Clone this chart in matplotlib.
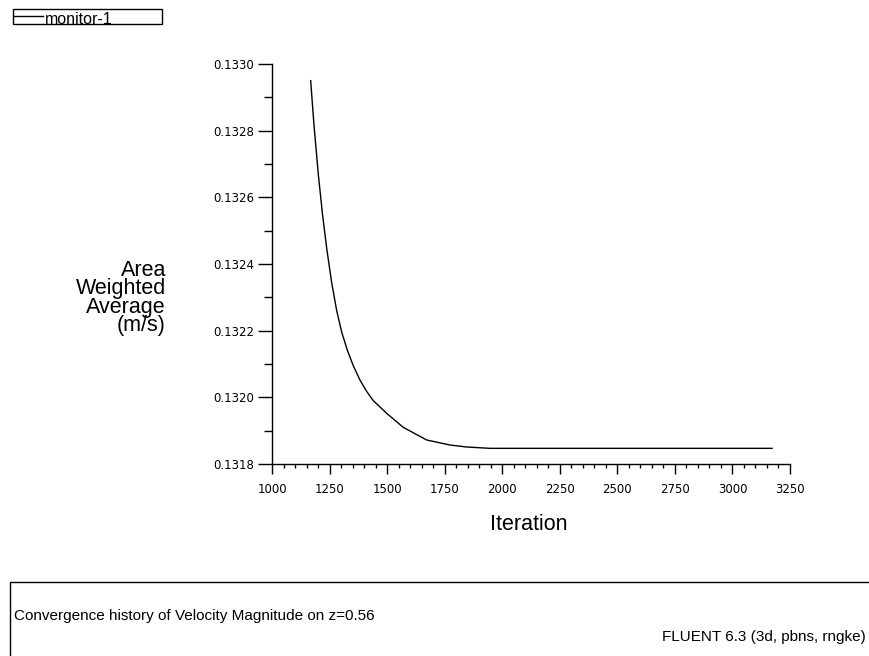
import matplotlib
matplotlib.use("Agg")
import matplotlib.pyplot as plt
from matplotlib.patches import Rectangle
from matplotlib.lines import Line2D
from matplotlib.ticker import MultipleLocator, FormatStrFormatter

# Monitor history: area-weighted average velocity magnitude per iteration
iterations = [1168, 1182, 1201, 1220, 1238, 1259, 1281, 1303, 1328, 1353, 1382,
              1411, 1440, 1483, 1498, 1553, 1570, 1672, 1773, 1846, 1947, 3172]
velocity = [0.132950, 0.132820, 0.132670, 0.132545, 0.132445, 0.132345, 0.132260,
            0.132195, 0.132140, 0.132095, 0.132052, 0.132018, 0.131990, 0.131962,
            0.131952, 0.131920, 0.131910, 0.131872, 0.131857, 0.131851, 0.131847,
            0.131847]

series_name = "monitor-1"
x_label = "Iteration"
y_label = "Area\nWeighted\nAverage\n(m/s)"
caption = "Convergence history of Velocity Magnitude on z=0.56"
solver_tag = "FLUENT 6.3 (3d, pbns, rngke)"

plt.rcParams["font.family"] = ["Liberation Sans", "DejaVu Sans"]

W, H = 869, 656
fig = plt.figure(figsize=(W / 100, H / 100), dpi=100)

def fx(px):
    return px / W

def fy(py):
    return 1 - py / H

ax = fig.add_axes([fx(272), fy(464), fx(790) - fx(272), fy(64) - fy(464)])
ax.plot(iterations, velocity, color="black", lw=1.0)
ax.set_xlim(1000, 3250)
ax.set_ylim(0.1318, 0.1330)

for side in ("top", "right"):
    ax.spines[side].set_visible(False)
for side in ("left", "bottom"):
    ax.spines[side].set_linewidth(1.0)

ax.xaxis.set_major_locator(MultipleLocator(250))
ax.xaxis.set_minor_locator(MultipleLocator(50))
ax.yaxis.set_major_locator(MultipleLocator(0.0002))
ax.yaxis.set_minor_locator(MultipleLocator(0.0001))
ax.yaxis.set_major_formatter(FormatStrFormatter("%.4f"))
ax.tick_params(axis="both", which="major", direction="out", width=1.0,
               labelsize=8.5)
ax.tick_params(axis="x", which="major", length=7, pad=7)
ax.tick_params(axis="x", which="minor", direction="out", length=3, width=1.0)
ax.tick_params(axis="y", which="major", length=10, pad=3)
ax.tick_params(axis="y", which="minor", direction="out", length=6, width=1.0)
for lab in ax.get_xticklabels() + ax.get_yticklabels():
    lab.set_family(["DejaVu Sans"])

fig.text(fx(529), fy(525), x_label, ha="center", va="center", fontsize=15.5)
fig.text(fx(166), fy(298), y_label, ha="right", va="center", fontsize=15.5,
         linespacing=0.85)

# legend box at the top left
fig.patches.append(Rectangle((fx(13), fy(24)), fx(162) - fx(13), fy(9) - fy(24),
                             transform=fig.transFigure, fill=False,
                             edgecolor="black", lw=1.0))
fig.lines.append(Line2D([fx(14), fx(43)], [fy(15.5), fy(15.5)],
                        transform=fig.transFigure, color="black", lw=1.0))
fig.text(fx(45), fy(24), series_name, ha="left", va="baseline", fontsize=11.5)

# caption box along the bottom
fig.patches.append(Rectangle((fx(10), fy(700)), fx(900) - fx(10), fy(582) - fy(700),
                             transform=fig.transFigure, fill=False,
                             edgecolor="black", lw=1.0, clip_on=False))
fig.text(fx(14), fy(616), caption, ha="left", va="center", fontsize=11)
fig.text(fx(866), fy(637), solver_tag, ha="right", va="center", fontsize=11)

fig.savefig("out.png", dpi=100)
